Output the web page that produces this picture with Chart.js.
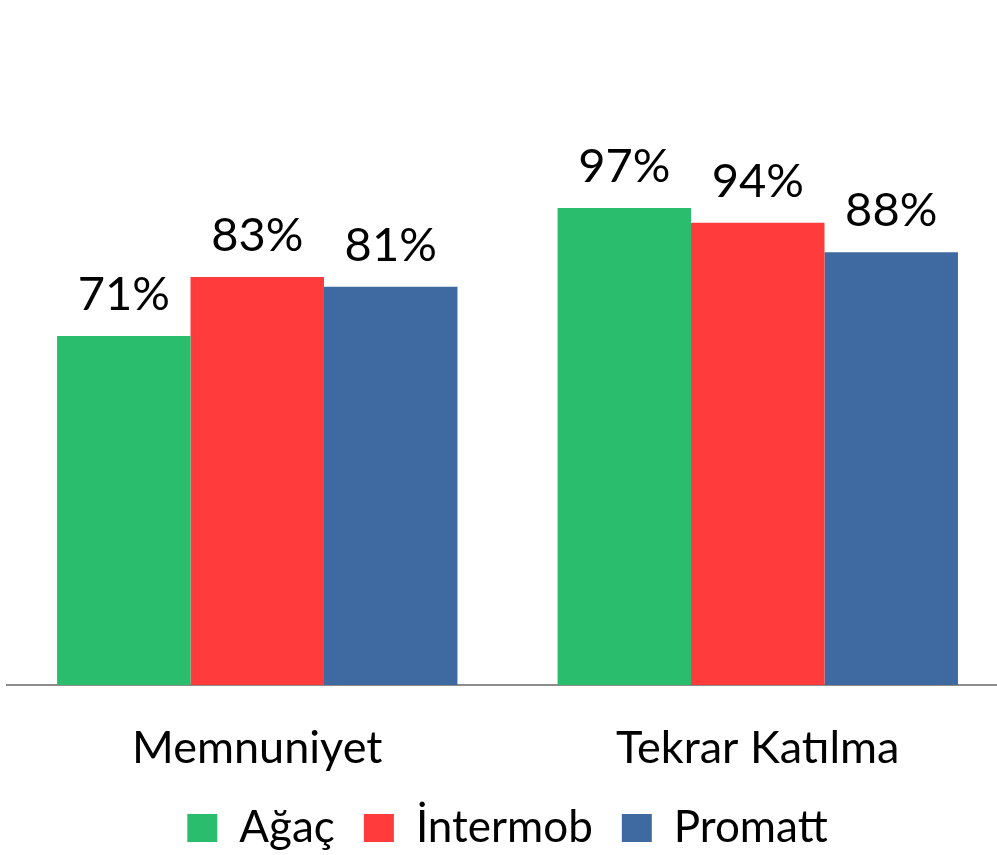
<!DOCTYPE html>
<html lang="tr">
  <head>
    <meta charset="UTF-8" />
    <title>Memnuniyet / Tekrar Katılma</title>
    <script src="https://cdn.jsdelivr.net/npm/chart.js@4"></script>
    <style>
      html, body { margin: 0; padding: 0; background: #fff; overflow: hidden; }
      #wrap { position: relative; width: 1008px; height: 860px; }
    </style>
  </head>
  <body>
    <div id="wrap"><canvas id="chart"></canvas></div>

    <script>
      const categories = ["Memnuniyet", "Tekrar Katılma"];
      const agac = [71, 97];
      const intermob = [83, 94];
      const promatt = [81, 88];

      const FONT = "Lato, 'Open Sans', sans-serif";

      // value labels above each bar
      const barLabels = {
        id: "barLabels",
        afterDatasetsDraw(chart) {
          const ctx = chart.ctx;
          ctx.save();
          ctx.font = "47px " + FONT;
          ctx.fillStyle = "#000";
          ctx.textAlign = "center";
          ctx.textBaseline = "alphabetic";
          chart.data.datasets.forEach((ds, i) => {
            chart.getDatasetMeta(i).data.forEach((bar, j) => {
              ctx.fillText(ds.data[j] + "%", bar.x, bar.y - 26);
            });
          });
          ctx.restore();
        },
      };

      new Chart(document.getElementById("chart"), {
        type: "bar",
        data: {
          labels: categories,
          datasets: [
            { label: "Ağaç", data: agac, backgroundColor: "#2bbd6e" },
            { label: "İntermob", data: intermob, backgroundColor: "#ff3b3b" },
            { label: "Promatt", data: promatt, backgroundColor: "#3e6aa1" },
          ],
        },
        options: {
          responsive: true,
          maintainAspectRatio: false,
          animation: false,
          devicePixelRatio: 1,
          layout: { padding: { left: 7, right: 0, top: 95, bottom: 0 } },
          datasets: { bar: { categoryPercentage: 0.8, barPercentage: 1.0 } },
          scales: {
            x: {
              grid: { display: false },
              border: { display: true, color: "#8c8c8c", width: 2 },
              ticks: {
                color: "#000",
                font: { family: FONT, size: 45 },
                padding: 28,
              },
              afterFit(scale) {
                scale.height = 92;
              },
            },
            y: {
              display: false,
              min: 0,
              max: 120,
            },
          },
          plugins: {
            legend: {
              position: "bottom",
              labels: {
                color: "#000",
                font: { family: FONT, size: 44 },
                boxWidth: 30,
                boxHeight: 28,
                padding: 29,
              },
            },
            tooltip: { enabled: false },
          },
        },
        plugins: [barLabels],
      });
    </script>
  </body>
</html>
